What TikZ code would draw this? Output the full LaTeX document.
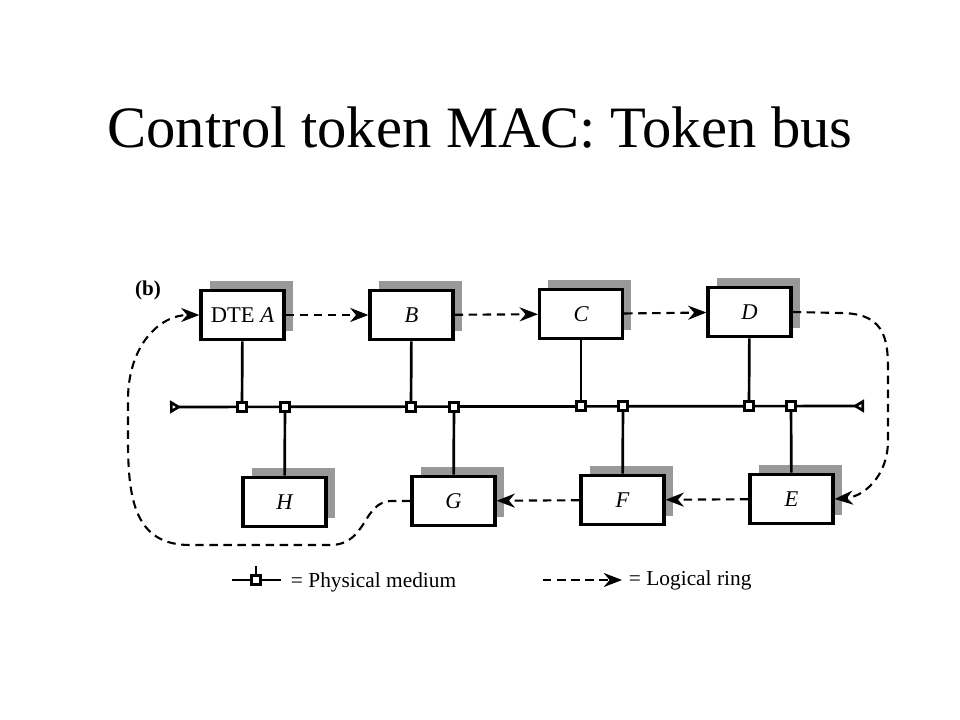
\documentclass[tikz,border=0pt]{standalone}
\usepackage{fontspec}
\setmainfont{Liberation Serif}
\usetikzlibrary{arrows.meta,shadows}

\begin{document}
\begin{tikzpicture}[x=0.025cm, y=-0.025cm,
    station/.style={rectangle, draw, line width=2.4pt, fill=white, inner sep=0pt, minimum width=2.07cm, minimum height=1.24cm, font=\fontsize{16}{18}\selectfont\itshape, drop shadow={shadow xshift=0.22cm, shadow yshift=0.22cm, fill=black!40, opacity=1}},
    tapnode/.style={rectangle, draw, line width=1.6pt, fill=white, inner sep=0pt, minimum size=0.22cm},
    wire/.style={line width=1.9pt},
    ring/.style={line width=1.5pt, dash pattern=on 6pt off 4pt, -{Stealth[length=13pt,width=10pt]}}]

    \useasboundingbox (0,0) rectangle (960,720);

    \node[font=\fontsize{41.7}{50}\selectfont](u0) at (480,128) {Control token MAC: Token bus};
    \node[font=\fontsize{15}{17}\selectfont\bfseries](u9) at (148,290) {(b)};

    % bus
    \coordinate (b1) at (170,407);
    \coordinate (b2) at (864,406);
    \draw[wire, {Triangle[open,reversed,length=8pt,width=9pt]}-{Triangle[open,reversed,length=8pt,width=9pt]}] (b1) -- (b2);

    \node[station](u1) at (242.5,315) {\textup{DTE} A};
    \node[station](u2) at (411.5,315) {B};
    \node[station](u3) at (581,314) {C};
    \node[station](u4) at (749.5,312) {D};
    \node[station](u5) at (284.5,502) {H};
    \node[station](u6) at (453.5,501) {G};
    \node[station](u7) at (622.5,500) {F};
    \node[station](u8) at (791.5,499) {E};

    \node[tapnode](t1) at (242,407) {};
    \node[tapnode](t5) at (285,407) {};
    \node[tapnode](t2) at (411,407) {};
    \node[tapnode](t6) at (454,407) {};
    \node[tapnode](t3) at (581,406) {};
    \node[tapnode](t7) at (623,406) {};
    \node[tapnode](t4) at (749,406) {};
    \node[tapnode](t8) at (791,406) {};

    \draw[wire] (u1) -- (t1);
    \draw[wire] (u2) -- (t2);
    \draw[wire] (u3) -- (t3);
    \draw[wire] (u4) -- (t4);
    \draw[wire] (t5) -- (u5);
    \draw[wire] (t6) -- (u6);
    \draw[wire] (t7) -- (u7);
    \draw[wire] (t8) -- (u8);

    % logical ring
    \draw[ring] (u1) -- (u2);
    \draw[ring] (u2) -- (u3);
    \draw[ring] (u3) -- (u4);
    \draw[ring] (u4.east) -- (840,313) .. controls (890,313) and (888,345) .. (888,380) -- (888,440) .. controls (888,478) and (862,497) .. (u8.east);
    \draw[ring] (u8) -- (u7);
    \draw[ring] (u7) -- (u6);
    \draw[ring] (u6.west) -- (392,501) .. controls (362,501) and (368,545) .. (330,545) -- (190,545) .. controls (135,545) and (128,500) .. (128,440) -- (128,400) .. controls (128,345) and (160,315) .. (u1.west);

    % legend
    \coordinate (l1) at (232,580);
    \coordinate (l2) at (281,580);
    \coordinate (l4) at (256,566);
    \draw[wire] (l1) -- (l2);
    \node[tapnode](l3) at (256,580) {};
    \draw[wire] (l4) -- (l3);
    \node[anchor=west, font=\fontsize{15.2}{17}\selectfont](l5) at (286,582) {= Physical medium};
    \coordinate (l6) at (543,580);
    \coordinate (l7) at (622,580);
    \draw[ring] (l6) -- (l7);
    \node[anchor=west, font=\fontsize{15.2}{17}\selectfont](l8) at (624,580) {= Logical ring};

\end{tikzpicture}
\end{document}
